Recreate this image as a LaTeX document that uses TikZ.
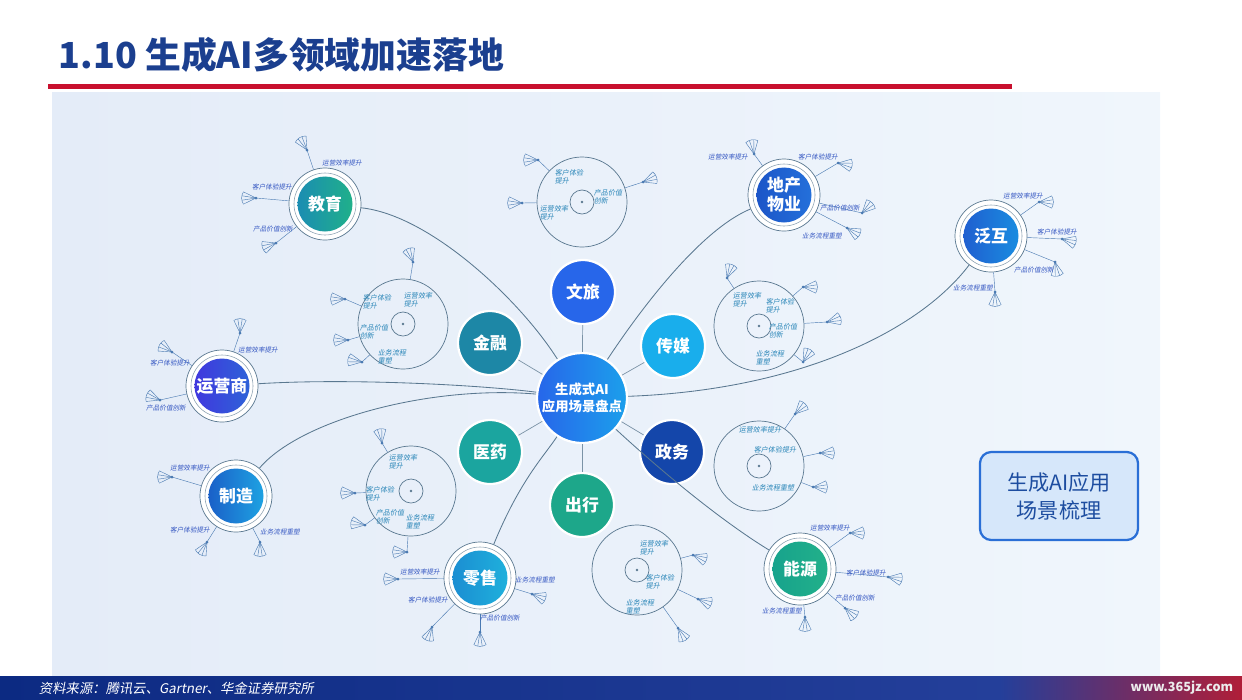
\documentclass[tikz,border=0pt]{standalone}
\usepackage{fontspec}
\setmainfont{Noto Sans CJK SC}
\newfontfamily\cjkit[FakeSlant=0.18]{Noto Sans CJK SC}
\usetikzlibrary{positioning}

\definecolor{titleblue}{HTML}{1B3F8F}
\definecolor{rulered}{HTML}{C8102E}
\definecolor{panelL}{HTML}{E4ECF8}
\definecolor{panelR}{HTML}{F0F6FC}
\definecolor{linkgray}{HTML}{5A7890}
\definecolor{twigblue}{HTML}{4A7AB2}
\definecolor{tagblue}{HTML}{3557C2}
\definecolor{tagteal}{HTML}{2A86B8}
\definecolor{footL}{HTML}{0C2A82}
\definecolor{footM}{HTML}{243F9A}
\definecolor{footR}{HTML}{B01E38}
\definecolor{boxfill}{HTML}{D6E7FA}
\definecolor{boxline}{HTML}{2A6FD6}
\definecolor{boxtext}{HTML}{1D4DA0}
% hub colours
\definecolor{wlcol}{HTML}{2766EA}
\definecolor{jrcol}{HTML}{1D87A6}
\definecolor{cmcol}{HTML}{19AEEC}
\definecolor{yaocol}{HTML}{1BA59F}
\definecolor{zwcol}{HTML}{1446AA}
\definecolor{cxcol}{HTML}{1DA78A}
% field colours
\definecolor{jyA}{HTML}{1B8DB2}\definecolor{jyB}{HTML}{20B08A}
\definecolor{dcA}{HTML}{1C55C8}\definecolor{dcB}{HTML}{2470DA}
\definecolor{fhA}{HTML}{1F5FD0}\definecolor{fhB}{HTML}{1A8CE0}
\definecolor{yyA}{HTML}{4038DE}\definecolor{yyB}{HTML}{2E62D8}
\definecolor{zzA}{HTML}{1A60C8}\definecolor{zzB}{HTML}{1EA2E2}
\definecolor{lsA}{HTML}{1B8ED2}\definecolor{lsB}{HTML}{1FB0DC}
\definecolor{nyA}{HTML}{17A38C}\definecolor{nyB}{HTML}{22B08A}

\tikzset{
  hub/.style={circle, draw=white, line width=1.6pt, text=white, inner sep=0pt,
    minimum size=1.6cm, font=\bfseries\fontsize{12}{14}\selectfont},
  core/.style={hub, minimum size=2.25cm, align=center, font=\bfseries\fontsize{9.5}{12.5}\selectfont},
  halo/.style={circle, draw=linkgray, line width=0.5pt, fill=white, minimum size=1.8cm, inner sep=0pt},
  halo2/.style={circle, draw=linkgray!70, line width=0.4pt, minimum size=1.55cm, inner sep=0pt},
  fielddisc/.style={circle, text=white, inner sep=0pt, minimum size=1.375cm, align=center,
    font=\bfseries\fontsize{12}{13.5}\selectfont},
  scene/.style={circle, draw=linkgray, line width=0.5pt, minimum size=2.25cm, inner sep=0pt},
  hole/.style={circle, draw=linkgray, line width=0.5pt, minimum size=0.6cm, inner sep=0pt},
  link/.style={draw=linkgray, line width=0.6pt},
  spoke/.style={draw=linkgray!80, line width=0.5pt},
  twig/.style={draw=twigblue, line width=0.3pt},
  tag/.style={font=\cjkit\fontsize{4.7}{5.4}\selectfont, text=tagblue, inner sep=0.5pt, align=left},
  rtag/.style={tag, font=\cjkit\fontsize{5}{5.8}\selectfont, text=tagteal},
  summary/.style={draw=boxline, line width=1.6pt, fill=boxfill, rounded corners=8pt,
    minimum width=3.95cm, minimum height=2.2cm, align=center, text=boxtext,
    font=\fontsize{15}{20}\selectfont}
}

% small fan at a branch end (angles: 0 right, 90 down)
\newcommand\fan[2]{%
  \fill[twigblue] (#1) circle (1.5);
  \foreach \o in {-26,-9,9,26} \draw[twig] (#1) -- ++(#2+\o:14);
  \draw[twig] (#1) +(#2-26:14) -- +(#2-13:14.3) -- +(#2:14.4) -- +(#2+13:14.3) -- +(#2+26:14);
}

\begin{document}
\begin{tikzpicture}[x=0.025cm, y=-0.025cm]
\useasboundingbox (0,0) rectangle (1242,699);

% title and rule
\node[anchor=west, text=titleblue, font=\bfseries\fontsize{25.5}{28}\selectfont] (title) at (54,55) {1.10 生成AI多领域加速落地};
\fill[rulered] (48,84) rectangle (1012,89);

% panel
\shade[left color=panelL, right color=panelR] (52,92) rectangle (1160,676);

% footer
\shade[left color=footL, right color=footM] (0,676) rectangle (1000,699);
\shade[left color=footM, right color=footR] (1000,676) rectangle (1242,699);
\node[anchor=west, text=white, font=\cjkit\fontsize{9.5}{10}\selectfont] (src) at (34,688) {资料来源：腾讯云、Gartner、华金证券研究所};
\node[anchor=east, text=white!85!gray, font=\bfseries\fontsize{9}{10}\selectfont] (wm) at (1238,688) {www.365jz.com};

% scene rings
\foreach \n/\p in {rjr/{(403,324)}, rwl/{(582,202)}, rcm/{(759,326)}, rzw/{(759,466)}, ryao/{(411,491)}, rcx/{(637,570)}} {
  \node[scene] (\n) at \p {};
  \node[hole] at (\n) {};
  \fill[linkgray] (\n) circle (1.3);
}

% fields
\node[halo] (jy) at (325,204) {};
\node[halo2] at (jy) {};
\node[fielddisc, left color=jyA, right color=jyB] (jyt) at (jy) {教育};
\node[halo] (dc) at (784,195) {};
\node[halo2] at (dc) {};
\node[fielddisc, left color=dcA, right color=dcB] (dct) at (dc) {地产\\物业};
\node[halo] (fh) at (991,236) {};
\node[halo2] at (fh) {};
\node[fielddisc, left color=fhA, right color=fhB] (fht) at (fh) {泛互};
\node[halo] (yy) at (222,386) {};
\node[halo2] at (yy) {};
\node[fielddisc, left color=yyA, right color=yyB] (yyt) at (yy) {运营商};
\node[halo] (zz) at (236,496) {};
\node[halo2] at (zz) {};
\node[fielddisc, left color=zzA, right color=zzB] (zzt) at (zz) {制造};
\node[halo] (ls) at (480,578) {};
\node[halo2] at (ls) {};
\node[fielddisc, left color=lsA, right color=lsB] (lst) at (ls) {零售};
\node[halo] (ny) at (800,569) {};
\node[halo2] at (ny) {};
\node[fielddisc, left color=nyA, right color=nyB] (nyt) at (ny) {能源};

% core and hubs
\node[core, left color=wlcol, right color=cmcol!80!wlcol] (core) at (582,398) {生成式AI\\应用场景盘点};
\node[hub, fill=wlcol] (wl) at (583,292) {文旅};
\node[hub, fill=jrcol] (jr) at (490,343) {金融};
\node[hub, fill=cmcol] (cm) at (673,346) {传媒};
\node[hub, fill=yaocol] (yao) at (490,452) {医药};
\node[hub, fill=zwcol] (zw) at (672,452) {政务};
\node[hub, fill=cxcol] (cx) at (582,505) {出行};
\foreach \n in {wl,jr,cm,yao,zw,cx} \draw[spoke] (core) -- (\n);

% long links
\draw[link] (jy) .. controls (430,215) and (520,300) .. (core);
\draw[link] (yy) .. controls (350,378) and (480,385) .. (core);
\draw[link] (zz) .. controls (300,420) and (430,385) .. (core);
\draw[link] (ls) .. controls (520,480) and (545,455) .. (core);
\draw[link] (core) .. controls (660,470) and (720,520) .. (ny);
\draw[link] (core) .. controls (800,390) and (920,330) .. (fh);
\draw[link] (core) .. controls (640,310) and (700,230) .. (dc);

% branch ends
\coordinate (jy1) at (307,150);  \coordinate (jy2) at (256,198);  \coordinate (jy3) at (276,243);
\coordinate (dc1) at (754,154);  \coordinate (dc2) at (838,163);  \coordinate (dc3) at (862,213);  \coordinate (dc4) at (847,228);
\coordinate (fh1) at (1039,202); \coordinate (fh2) at (1062,239); \coordinate (fh3) at (1055,262); \coordinate (fh4) at (995,292);
\coordinate (yy1) at (240,333);  \coordinate (yy2) at (172,352);  \coordinate (yy3) at (160,400);
\coordinate (zz1) at (172,477);  \coordinate (zz2) at (207,542);  \coordinate (zz3) at (260,542);
\coordinate (ls1) at (398,579);  \coordinate (ls2) at (432,627);  \coordinate (ls3) at (480,632);  \coordinate (ls4) at (532,594);
\coordinate (ny1) at (850,533);  \coordinate (ny2) at (888,577);  \coordinate (ny3) at (845,608);  \coordinate (ny4) at (805,617);
\coordinate (rjr1) at (345,299); \coordinate (rjr2) at (348,340); \coordinate (rjr3) at (362,362); \coordinate (rjr4) at (413,262);
\coordinate (rwl1) at (538,160); \coordinate (rwl2) at (522,203); \coordinate (rwl3) at (643,182);
\coordinate (rcm1) at (727,278); \coordinate (rcm2) at (803,287); \coordinate (rcm3) at (827,322); \coordinate (rcm4) at (803,362);
\coordinate (rzw1) at (795,414); \coordinate (rzw2) at (820,453); \coordinate (rzw3) at (813,487);
\coordinate (ryao1) at (382,443); \coordinate (ryao2) at (355,493); \coordinate (ryao3) at (365,525); \coordinate (ryao4) at (407,552);
\coordinate (rcx1) at (693,555); \coordinate (rcx2) at (698,599); \coordinate (rcx3) at (678,628);

\foreach \d/\b in {jy/jy1, jy/jy2, jy/jy3, dc/dc1, dc/dc2, dc/dc3, dc/dc4, fh/fh1, fh/fh2, fh/fh3, fh/fh4,
    yy/yy1, yy/yy2, yy/yy3, zz/zz1, zz/zz2, zz/zz3, ls/ls1, ls/ls2, ls/ls3, ls/ls4, ny/ny1, ny/ny2, ny/ny3, ny/ny4,
    rjr/rjr1, rjr/rjr2, rjr/rjr3, rjr/rjr4, rwl/rwl1, rwl/rwl2, rwl/rwl3, rcm/rcm1, rcm/rcm2, rcm/rcm3, rcm/rcm4,
    rzw/rzw1, rzw/rzw2, rzw/rzw3, ryao/ryao1, ryao/ryao2, ryao/ryao3, ryao/ryao4, rcx/rcx1, rcx/rcx2, rcx/rcx3}
  \draw[twig] (\b) -- (\d);

\foreach \b/\a in {jy1/-120, jy2/180, jy3/160, dc1/-100, dc2/10, dc3/-45, dc4/30, fh1/0, fh2/15, fh3/80, fh4/90,
    yy1/-90, yy2/-150, yy3/-160, zz1/180, zz2/120, zz3/90, ls1/180, ls2/110, ls3/90, ls4/20,
    ny1/0, ny2/10, ny3/40, ny4/90, rjr1/180, rjr2/180, rjr3/190, rjr4/-110, rwl1/180, rwl2/180, rwl3/-20,
    rcm1/-70, rcm2/0, rcm3/-15, rcm4/-60, rzw1/-45, rzw2/0, rzw3/0, ryao1/-100, ryao2/180, ryao3/190, ryao4/180,
    rcx1/20, rcx2/20, rcx3/60}
  \fan{\b}{\a};

% field tags
\node[tag] (jyA1) at (342,163) {运营效率提升};
\node[tag] (jyA2) at (272,187) {客户体验提升};
\node[tag] (jyA3) at (273,229) {产品价值创新};
\node[tag] (dcA1) at (728,157) {运营效率提升};
\node[tag] (dcA2) at (818,157) {客户体验提升};
\node[tag] (dcA3) at (840,208) {产品价值创新};
\node[tag] (dcA4) at (822,236) {业务流程重塑};
\node[tag] (fhA1) at (1023,196) {运营效率提升};
\node[tag] (fhA2) at (1057,232) {客户体验提升};
\node[tag] (fhA3) at (1034,270) {产品价值创新};
\node[tag] (fhA4) at (973,288) {业务流程重塑};
\node[tag] (yyA1) at (258,350) {运营效率提升};
\node[tag] (yyA2) at (170,363) {客户体验提升};
\node[tag] (yyA3) at (166,408) {产品价值创新};
\node[tag] (zzA1) at (190,468) {运营效率提升};
\node[tag] (zzA2) at (190,530) {客户体验提升};
\node[tag] (zzA3) at (280,532) {业务流程重塑};
\node[tag] (lsA1) at (420,572) {运营效率提升};
\node[tag] (lsA2) at (428,600) {客户体验提升};
\node[tag] (lsA3) at (500,618) {产品价值创新};
\node[tag] (lsA4) at (535,580) {业务流程重塑};
\node[tag] (nyA1) at (830,528) {运营效率提升};
\node[tag] (nyA2) at (866,573) {客户体验提升};
\node[tag] (nyA3) at (855,598) {产品价值创新};
\node[tag] (nyA4) at (782,611) {业务流程重塑};

% ring tags
\node[rtag] (rjrA1) at (377,302) {客户体验\\提升};
\node[rtag] (rjrA2) at (418,300) {运营效率\\提升};
\node[rtag] (rjrA3) at (374,332) {产品价值\\创新};
\node[rtag] (rjrA4) at (392,357) {业务流程\\重塑};
\node[rtag] (rwlA1) at (569,177) {客户体验\\提升};
\node[rtag] (rwlA2) at (554,213) {运营效率\\提升};
\node[rtag] (rwlA3) at (608,197) {产品价值\\创新};
\node[rtag] (rcmA1) at (747,300) {运营效率\\提升};
\node[rtag] (rcmA2) at (780,306) {客户体验\\提升};
\node[rtag] (rcmA3) at (783,331) {产品价值\\创新};
\node[rtag] (rcmA4) at (770,358) {业务流程\\重塑};
\node[rtag] (rzwA1) at (760,430) {运营效率提升};
\node[rtag] (rzwA2) at (775,450) {客户体验提升};
\node[rtag] (rzwA3) at (773,488) {业务流程重塑};
\node[rtag] (ryaoA1) at (403,462) {运营效率\\提升};
\node[rtag] (ryaoA2) at (380,494) {客户体验\\提升};
\node[rtag] (ryaoA3) at (390,517) {产品价值\\创新};
\node[rtag] (ryaoA4) at (420,522) {业务流程\\重塑};
\node[rtag] (rcxA1) at (654,548) {运营效率\\提升};
\node[rtag] (rcxA2) at (660,582) {客户体验\\提升};
\node[rtag] (rcxA3) at (640,607) {业务流程\\重塑};

% summary box
\node[summary] (sum) at (1059,496) {生成AI应用\\场景梳理};
\end{tikzpicture}
\end{document}
